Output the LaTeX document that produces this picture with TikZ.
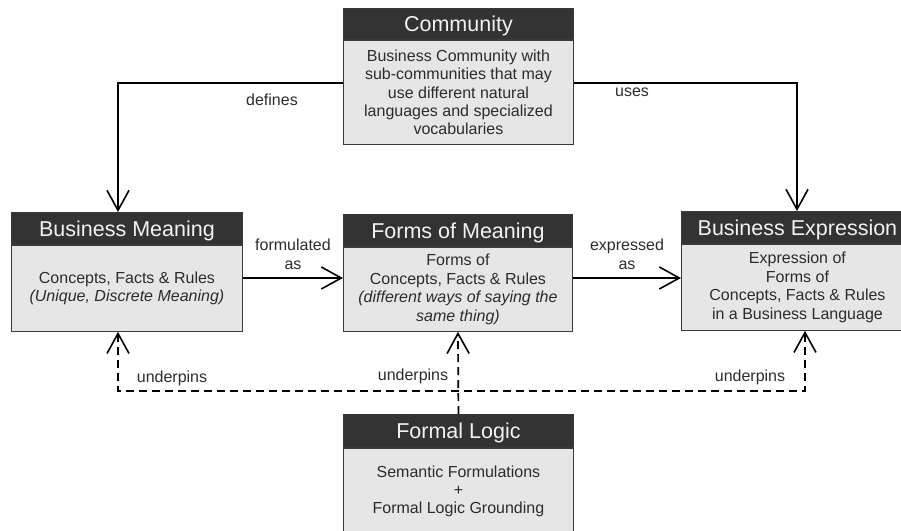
\documentclass[tikz,border=0pt]{standalone}
\usepackage{fontspec}
\setmainfont{Liberation Sans}
\usetikzlibrary{arrows.meta}
\definecolor{headfill}{HTML}{333333}
\definecolor{bodyfill}{HTML}{E6E6E6}
\definecolor{boxline}{HTML}{3A3A3A}
\definecolor{inktext}{HTML}{2C2C2C}
\definecolor{headtext}{HTML}{F2F2F2}
\begin{document}
\begin{tikzpicture}[x=1pt,y=-1pt,
  head/.style={draw=boxline, fill=headfill, text=headtext, line width=0.9pt,
    inner sep=0pt, anchor=north west, text height=15.5pt, text depth=0pt,
    font=\fontsize{21.5}{24}\selectfont},
  body/.style={draw=boxline, fill=bodyfill, text=inktext, line width=0.9pt,
    inner sep=0pt, anchor=north, align=center,
    font=\fontsize{16}{18.4}\selectfont},
  lbl/.style={text=inktext, inner sep=0pt, align=center,
    font=\fontsize{16}{19}\selectfont},
  vtip/.tip={Straight Barb[length=20pt,width=22pt,line width=1.6pt]},
  flow/.style={draw=black, line width=1.7pt, -vtip},
  dep/.style={draw=black, line width=1.7pt, dash pattern=on 8pt off 5pt},
]
\useasboundingbox (0,0) rectangle (901,530);
\clip (0,0) rectangle (901,530);

% Community
\node[head, minimum width=230pt, minimum height=31pt] (commH) at (343,8) {Community};
\node[body, minimum width=230pt, minimum height=104pt] (commB) at (commH.south)
  {Business Community with\\sub-communities that may\\use different natural\\languages and specialized\\vocabularies};

% Business Meaning
\node[head, minimum width=231pt, minimum height=32pt] (bmH) at (11,212) {Business Meaning};
\node[body, minimum width=231pt, minimum height=86pt] (bmB) at (bmH.south)
  {Concepts, Facts \& Rules\\\textit{(Unique, Discrete Meaning)}};

% Forms of Meaning
\node[head, minimum width=229pt, minimum height=32pt] (fomH) at (343,214) {Forms of Meaning};
\node[body, minimum width=229pt, minimum height=84pt] (fomB) at (fomH.south)
  {Forms of\\Concepts, Facts \& Rules\\\textit{(different ways of saying the}\\\textit{same thing)}};

% Business Expression
\node[head, minimum width=232pt, minimum height=32pt] (beH) at (681,211) {Business Expression};
\node[body, minimum width=232pt, minimum height=86pt] (beB) at (beH.south)
  {Expression of\\Forms of\\Concepts, Facts \& Rules\\in a Business Language};

% Formal Logic
\node[head, minimum width=230pt, minimum height=33pt] (flH) at (343,414) {Formal Logic};
\node[body, minimum width=230pt, minimum height=86pt] (flB) at (flH.south)
  {Semantic Formulations\\+\\Formal Logic Grounding};

% routing points
\coordinate (defk) at (118,83);
\coordinate (usek) at (797,83);
\coordinate (frow) at (0,278);
\coordinate (lk) at (118,391);
\coordinate (rk) at (805,391);

% solid connectors
\draw[flow] (commB.west |- defk) -- (defk) -- (defk |- bmH.north);
\draw[flow] (commB.east |- usek) -- (usek) -- (usek |- beH.north);
\draw[flow] (bmB.east |- frow) -- (fomB.west |- frow);
\draw[flow] (fomB.east |- frow) -- (beB.west |- frow);

% dashed connectors
\draw[dep, -vtip] (flH.north) -- (fomB.south);
\draw[dep, vtip-vtip] (lk |- bmB.south) -- (lk) -- (rk) -- (rk |- beB.south);

% labels
\node[lbl] (ldef) at (272,100) {defines};
\node[lbl] (luse) at (632,92) {uses};
\node[lbl] (lform) at (293,254) {formulated\\as};
\node[lbl] (lexp) at (627,254) {expressed\\as};
\node[lbl] (lup1) at (172,378) {underpins};
\node[lbl] (lup2) at (413,376) {underpins};
\node[lbl] (lup3) at (750,377) {underpins};
\end{tikzpicture}
\end{document}
